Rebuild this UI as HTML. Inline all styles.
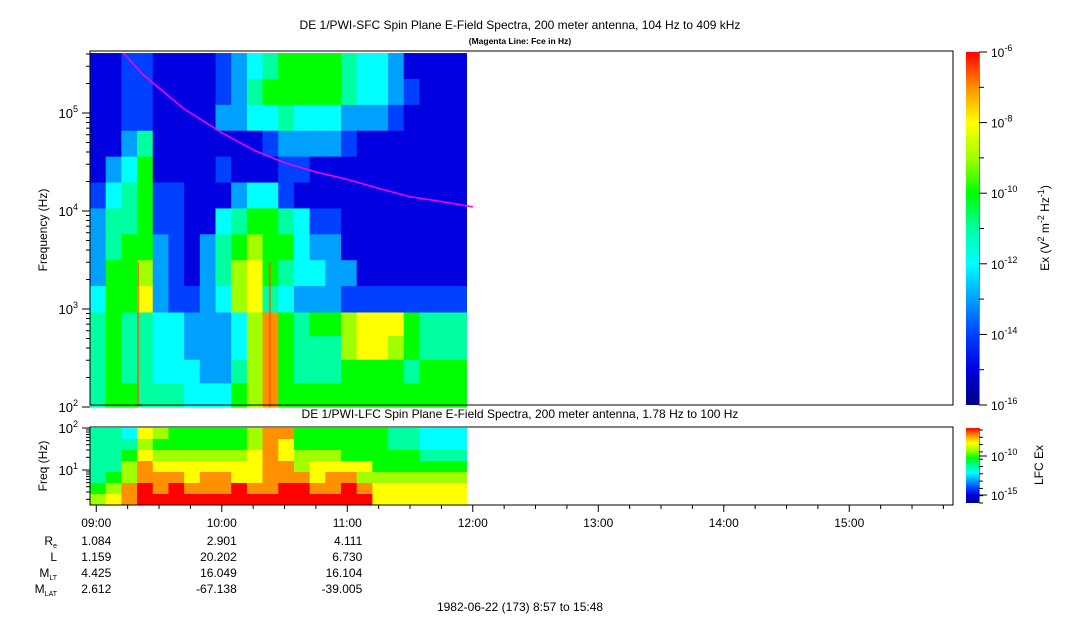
<!DOCTYPE html>
<html><head><meta charset="utf-8">
<style>
body{margin:0;background:#fff;}
svg{display:block;font-family:"Liberation Sans",sans-serif;}
</style></head>
<body>
<svg id="chart" width="1083" height="620" viewBox="0 0 1083 620">
<g>
<text x="520" y="29" font-size="12" text-anchor="middle">DE 1/PWI-SFC  Spin Plane E-Field Spectra, 200 meter antenna, 104 Hz to 409 kHz</text>
<text x="520" y="44" font-size="8.5" font-weight="bold" text-anchor="middle">(Magenta Line: Fce in Hz)</text>
<text x="520" y="418" font-size="12" text-anchor="middle">DE 1/PWI-LFC  Spin Plane E-Field Spectra, 200 meter antenna, 1.78 Hz to 100 Hz</text>
</g>
<defs>
<linearGradient id="cmap" x1="0" y1="1" x2="0" y2="0">
<stop offset="0" stop-color="#000080"/><stop offset="0.1" stop-color="#0000e0"/><stop offset="0.2" stop-color="#0040ff"/><stop offset="0.3" stop-color="#00a0ff"/><stop offset="0.4" stop-color="#00ffff"/><stop offset="0.5" stop-color="#00ffa0"/><stop offset="0.6" stop-color="#00ff00"/><stop offset="0.7" stop-color="#a0ff00"/><stop offset="0.8" stop-color="#ffff00"/><stop offset="0.9" stop-color="#ff9000"/><stop offset="1" stop-color="#ff0000"/>
</linearGradient>
</defs>
<g id="sfc"></g>
<g id="lfc"></g>
<g id="axes"></g>
<rect x="966" y="52" width="13" height="353" fill="url(#cmap)"/>
<rect x="966" y="428" width="13" height="75" fill="url(#cmap)"/>
<text transform="translate(1049,228) rotate(-90)" font-size="12" text-anchor="middle">Ex (V<tspan dy="-5" font-size="9">2</tspan><tspan dy="5"> m</tspan><tspan dy="-5" font-size="9">-2</tspan><tspan dy="5"> Hz</tspan><tspan dy="-5" font-size="9">-1</tspan><tspan dy="5">)</tspan></text>
<text transform="translate(1043,465) rotate(-90)" font-size="12" text-anchor="middle">LFC Ex</text>
<text transform="translate(47,230) rotate(-90)" font-size="12" text-anchor="middle">Frequency (Hz)</text>
<text transform="translate(47,466) rotate(-90)" font-size="12" text-anchor="middle">Freq (Hz)</text>
<text x="520" y="611" font-size="12" text-anchor="middle">1982-06-22 (173) 8:57 to 15:48</text>
</svg>
<script>
// ---- data ----
const hourLabels = ["09:00","10:00","11:00","12:00","13:00","14:00","15:00"];
const ephemLabels = ["R","L","M","M"];
const ephemSubs = ["e","","LT","LAT"];
const ephRe = ["1.084","2.901","4.111"];
const ephL = ["1.159","20.202","6.730"];
const ephMLT = ["4.425","16.049","16.104"];
const ephMLAT = ["2.612","-67.138","-39.005"];
// SFC grid: level 0..10 per column (24 columns, 7.5 min each from 08:57), rows top->bottom
const sfcUpperRows = [
"112211112345666654431111",
"112211112356666654432111",
"112211113344544433321111",
"113511111112333321111111",
"134611112111221111111111",
"245622111344211111111111",
"355622114566542211111111",
"356632135676643311111111",
"366732135786544331111111",
"466832234785433322222222"];
const sfcLowerRows = [
"565544333479656678886555",
"565544333479655578876555",
"565544433579655566665666",
"566555444679666666666666"];
const lfcRows = [
"554876666679966666655444",
"555766666679866666655444",
"556877777789877766666555",
"557988888889978888666666",
"567999899889998997777777",
"679a9a999a99aa99a9888888",
"789aaaaaaaaaaaaaaa888888"];
const streakMinutes = [23, 86];
const fceMinutes = [16, 25, 33, 45, 63, 78, 93, 108, 123, 138, 153, 168, 183];
const fceHz = [409000, 250000, 180000, 110000, 63000, 42000, 31000, 25000, 21000, 17000, 14000, 12500, 11000];

// ---- axes functions ----
const X0 = 90, PXMIN = 125.5/60;
const xOfMin = m => X0 + m*PXMIN;
const xOfHour = h => xOfMin((h-9)*60+3);
const ySfc = f => 309 - (Math.log10(f)-3)*98;
const yLfc = f => 470 - (Math.log10(f)-1)*42;
const stops = [[0,0,128],[0,0,224],[0,64,255],[0,160,255],[0,255,255],[0,255,160],[0,255,0],[160,255,0],[255,255,0],[255,144,0],[255,0,0]];
const col = v => {const c=stops[Math.max(0,Math.min(10,v))];return `rgb(${c[0]},${c[1]},${c[2]})`;};
const lvl = ch => ch==='a'?10:parseInt(ch,10);
const NS="http://www.w3.org/2000/svg";
function mk(tag, attrs, parent){const e=document.createElementNS(NS,tag);for(const k in attrs)e.setAttribute(k,attrs[k]);parent.appendChild(e);return e;}
const colMin = 7.5;

const sfc=document.getElementById('sfc');
function drawRows(rows, yTop, yBot, parent, name){
  const h=(yBot-yTop)/rows.length;
  rows.forEach((r,ri)=>{for(let ci=0;ci<r.length;ci++){
    const x1=xOfMin(ci*colMin), x2=xOfMin((ci+1)*colMin);
    const e=mk('rect',{x:x1,y:yTop+ri*h,width:x2-x1+0.5,height:h+0.5,fill:col(lvl(r[ci]))},parent);
    
    
  }});
}
drawRows(sfcUpperRows, ySfc(409000), ySfc(1000)+3, sfc, 'sfc-cell');
drawRows(sfcLowerRows, ySfc(900)-1, ySfc(100), sfc, 'sfc-cell');
streakMinutes.forEach(m=>{
  const e=mk('rect',{x:xOfMin(m)-1,y:ySfc(3000),width:2,height:ySfc(100)-ySfc(3000),fill:'#ff5000',opacity:0.7},sfc);
  
  
});
let d='';fceMinutes.forEach((m,i)=>{d+=(i?'L':'M')+xOfMin(m).toFixed(1)+' '+ySfc(fceHz[i]).toFixed(1);});
const fl=mk('path',{d:d,fill:'none',stroke:'#ff00ff','stroke-width':1.5,'stroke-linejoin':'round'},sfc);



const lfc=document.getElementById('lfc');
drawRows(lfcRows, 428, 505, lfc, 'lfc-cell');

// ---- axes ----
const ax=document.getElementById('axes');
const f1=mk('rect',{x:90,y:51,width:863,height:354,fill:'none',stroke:'#000','stroke-width':1},ax);


const f2=mk('rect',{x:90,y:427,width:863,height:78,fill:'none',stroke:'#000','stroke-width':1},ax);


for(let dec=2;dec<=5;dec++){for(let k=1;k<10;k++){const f=k*Math.pow(10,dec);if(f>409000)break;
  const y=ySfc(f);mk('line',{x1:k==1?82:86,x2:90,y1:y,y2:y,stroke:'#000'},ax);
  if(k==1){const t=mk('text',{x:78,y:y+5,'font-size':13,'text-anchor':'end'},ax);t.innerHTML='10<tspan dy="-6" font-size="9">'+dec+'</tspan>';
  
  }}}
for(let dec=0;dec<=2;dec++){for(let k=1;k<10;k++){const f=k*Math.pow(10,dec);if(f<1.78||f>100)continue;
  const y=yLfc(f);mk('line',{x1:k==1?82:86,x2:90,y1:y,y2:y,stroke:'#000'},ax);
  if(k==1&&dec>0){const t=mk('text',{x:78,y:y+5,'font-size':13,'text-anchor':'end'},ax);t.innerHTML='10<tspan dy="-6" font-size="9">'+dec+'</tspan>';
  
  }}}
for(let m=3;m<=411;m+=15){const x=xOfMin(m);const major=((m-3)%60)==0;
  mk('line',{x1:x,x2:x,y1:505,y2:major?512:509,stroke:'#000'},ax);}
hourLabels.forEach((h,i)=>{const t=mk('text',{x:xOfHour(9+i),y:527,'font-size':12,'text-anchor':'middle'},ax);t.textContent=h;
  
  });
const ephRows=[ephRe,ephL,ephMLT,ephMLAT];
ephRows.forEach((row,ri)=>{const y=545+ri*16;
  const lab=mk('text',{x:57,y:y,'font-size':12,'text-anchor':'end'},ax);
  lab.innerHTML=ephemLabels[ri]+(ephemSubs[ri]?'<tspan dy="3" font-size="7">'+ephemSubs[ri]+'</tspan>':'');
  
  
  row.forEach((v,ci)=>{const t=mk('text',{x:xOfHour(9+ci)+15,y:y,'font-size':12,'text-anchor':'end'},ax);t.textContent=v;
    
    });});
for(let i=0;i<=10;i++){const y=52+i*35.3;mk('line',{x1:979,x2:i%2?984:987,y1:y,y2:y,stroke:'#000'},ax);
  if(i%2==0){const t=mk('text',{x:991,y:y+5,'font-size':12},ax);t.innerHTML='10<tspan dy="-6" font-size="9">'+(-6-i)+'</tspan>';
  
  }}
mk('line',{x1:979,x2:979,y1:52,y2:405,stroke:'#000'},ax);
mk('line',{x1:979,x2:979,y1:428,y2:503,stroke:'#000'},ax);
for(let i=0;i<11;i++){const y=430+i*7.3;mk('line',{x1:979,x2:983,y1:y,y2:y,stroke:'#000'},ax);}
[[456,-10],[495,-15]].forEach(p=>{mk('line',{x1:979,x2:987,y1:p[0],y2:p[0],stroke:'#000'},ax);
  const t=mk('text',{x:991,y:p[0]+5,'font-size':12},ax);t.innerHTML='10<tspan dy="-6" font-size="9">'+p[1]+'</tspan>';
  
  });
</script>
</body></html>
